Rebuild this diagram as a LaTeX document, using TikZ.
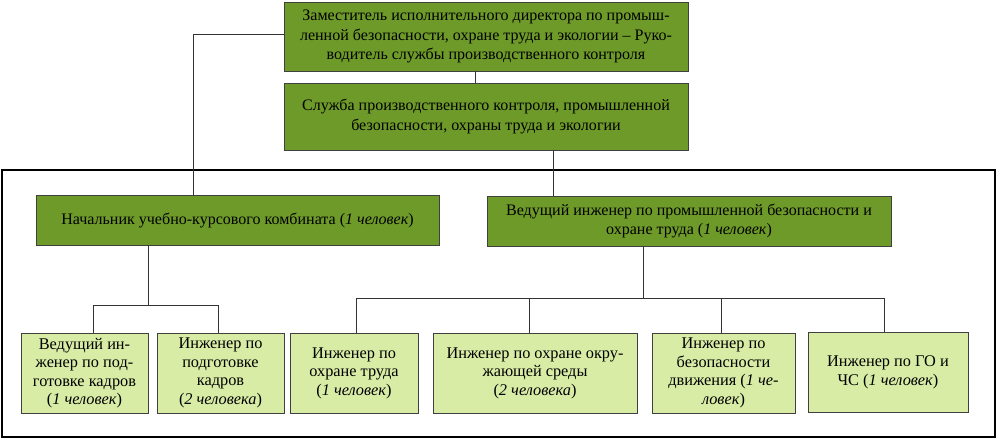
\documentclass[tikz,border=0pt]{standalone}
\usepackage{fontspec}
\setmainfont{Liberation Serif}
\usetikzlibrary{calc}
\definecolor{darkgr}{HTML}{6E9A2A}
\definecolor{lightgr}{HTML}{D8ECA6}

\begin{document}
\begin{tikzpicture}[x=0.025cm,y=-0.025cm,
	head/.style={draw=black!75,fill=darkgr,align=center,inner sep=0pt,font=\fontsize{11.4}{13.6}\selectfont},
	staff/.style={draw=black!75,fill=lightgr,align=center,inner sep=0pt,minimum height=2cm,font=\fontsize{11.6}{13.2}\selectfont},
	link/.style={draw=black!80,line width=0.6pt}]
			\useasboundingbox (0,0) rectangle (1000,440);
			\draw[line width=1.3pt] (2,170) rectangle (995,437);
			\node[head,minimum width=10.1cm,minimum height=1.73cm] (zam) at (486,36.5) {Заместитель исполнительного директора по промыш-\\ленной безопасности, охране труда и экологии -- Руко-\\водитель службы производственного контроля};
			\node[head,minimum width=10.1cm,minimum height=1.68cm] (sluzh) at (486,116.5) {Служба производственного контроля, промышленной\\безопасности, охраны труда и экологии};
			\node[head,minimum width=10.08cm,minimum height=1.25cm] (nach) at (237.5,220) {Начальник учебно-курсового комбината (\textit{1 человек})};
			\node[head,minimum width=10.1cm,minimum height=1.25cm] (ved) at (689,221) {Ведущий инженер по промышленной безопасности и\\охране труда (\textit{1 человек})};
			\node[staff,minimum width=3.18cm] (kadr1) at (84.5,373) {Ведущий ин-\\женер по под-\\готовке кадров\\(\textit{1 человек})};
			\node[staff,minimum width=3.18cm] (kadr2) at (220.5,373) {Инженер по\\подготовке\\кадров\\(\textit{2 человека})};
			\node[staff,minimum width=3.2cm] (trud) at (354,373) {Инженер по\\охране труда\\(\textit{1 человек})};
			\node[staff,minimum width=5.1cm] (sreda) at (535,373) {Инженер по охране окру-\\жающей среды\\(\textit{2 человека})};
			\node[staff,minimum width=3.58cm] (dvizh) at (723.5,373) {Инженер по\\безопасности\\движения (\textit{1 че-}\\\textit{ловек})};
			\node[staff,minimum width=4cm] (gochs) at (888,372.5) {Инженер по ГО и\\ЧС (\textit{1 человек})};
			\draw[link] ($(zam.south)+(-11,0)$) -- ($(zam.south)+(-11,12)$);
			\draw[link] ($(zam.west)+(0,-2.5)$) -| ($(nach.north)+(-44.5,0)$);
			\draw[link] ($(sluzh.south)+(67,0)$) -- ($(ved.north)+(-136,0)$);
			\draw[link] ($(nach.south)+(-89.5,0)$) -- ++(0,60) coordinate (busl);
			\draw[link] ($(kadr1.north)+(8.5,0)$) |- (busl) -| ($(kadr2.north)+(-2.5,0)$);
			\draw[link] ($(ved.south)+(-46,0)$) -- ++(0,52) coordinate (busr);
			\draw[link] ($(trud.north)+(2,0)$) |- (busr) -| ($(gochs.north)+(-4,0)$);
			\draw[link] ($(sreda.north)+(-6,0)$) -- ($(sreda.north)+(-6,-35)$);
			\draw[link] ($(dvizh.north)+(-2.5,0)$) -- ($(dvizh.north)+(-2.5,-35)$);
\end{tikzpicture}
\end{document}
